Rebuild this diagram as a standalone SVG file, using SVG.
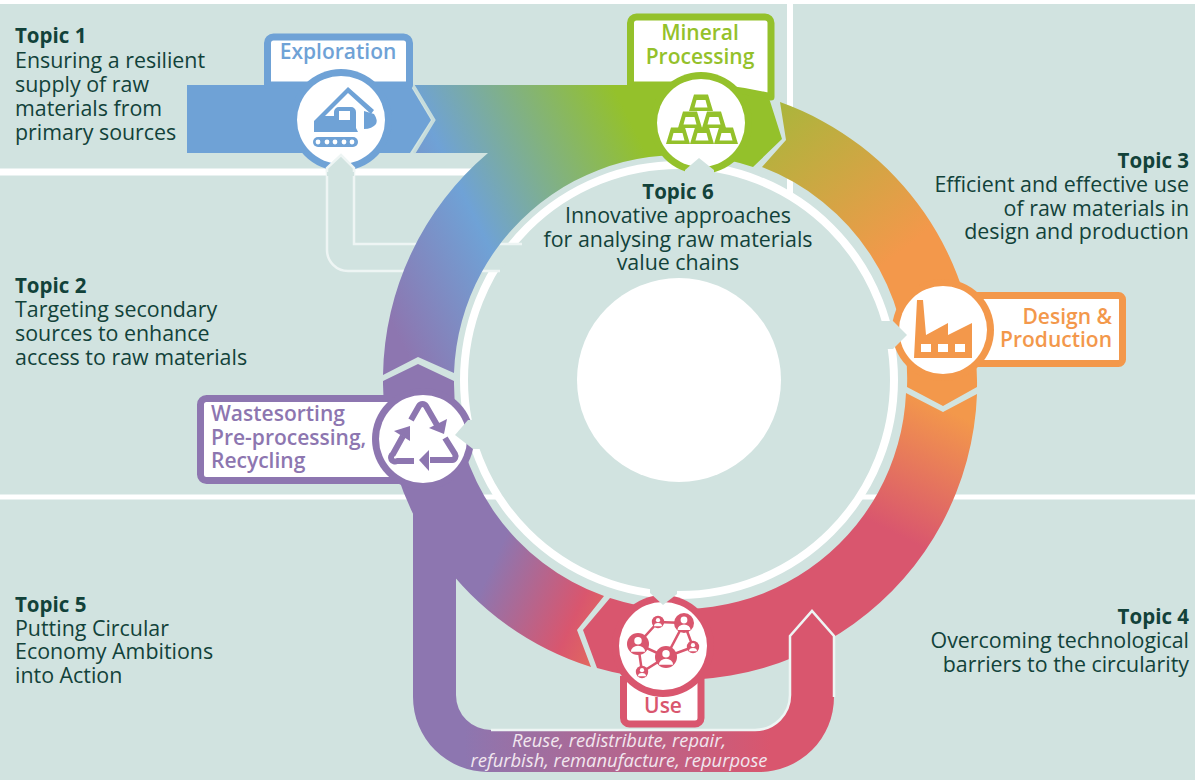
<svg xmlns="http://www.w3.org/2000/svg" xmlns:xlink="http://www.w3.org/1999/xlink" width="1195" height="780" viewBox="0 0 1195 780">
<style>
text{font-family:"Open Sans","Noto Sans","Liberation Sans",sans-serif}
.t{font-size:21.4px;fill:#12423a}
.h{font-weight:700;font-size:20.5px}
.e{text-anchor:end}
.m{text-anchor:middle}
.lab{font-size:21px;font-weight:600}
.bg{fill:#d1e3e0}
.wl{stroke:#fff;fill:none}
.pale{fill:none;stroke:#eef5f4;stroke-width:2.5}
.box{fill:#fff;stroke-width:7;stroke-linejoin:round}
.blue{fill:#6fa2d6}.green{fill:#94c12b}.orange{fill:#f3984b}.purple{fill:#8d76b0}.red{fill:#d9566e}
.sblue{stroke:#6fa2d6}.sgreen{stroke:#94c12b}.sorange{stroke:#f3984b}.spurple{stroke:#8d76b0}.sred{stroke:#d9566e}
.rec{fill:none;stroke:#8d76b0;stroke-width:6;stroke-linejoin:round}
.note{font-size:18.4px;font-style:italic;fill:#f1e6ee;text-anchor:middle}
</style>
<defs>
<linearGradient id="g1" gradientUnits="userSpaceOnUse" x1="400" y1="340" x2="672" y2="204"><stop offset="0" stop-color="#8d76b0"/><stop offset=".4" stop-color="#6fa2d6"/><stop offset="1" stop-color="#94c12b"/></linearGradient>
<linearGradient id="g3" gradientUnits="userSpaceOnUse" x1="770" y1="105" x2="890" y2="260"><stop offset="0" stop-color="#a9b63b"/><stop offset="1" stop-color="#f3984b"/></linearGradient>
<linearGradient id="g4" gradientUnits="userSpaceOnUse" x1="938" y1="405" x2="878" y2="525"><stop offset="0" stop-color="#f3984b"/><stop offset="1" stop-color="#d9566e"/></linearGradient>
<linearGradient id="g5" gradientUnits="userSpaceOnUse" x1="490" y1="570" x2="612" y2="625"><stop offset="0" stop-color="#8d76b0"/><stop offset=".72" stop-color="#d9566e"/><stop offset="1" stop-color="#e2695e"/></linearGradient>
<linearGradient id="g6" gradientUnits="userSpaceOnUse" x1="465" y1="0" x2="770" y2="0"><stop offset="0" stop-color="#8d76b0"/><stop offset="1" stop-color="#d9566e"/></linearGradient>
<path id="ingot" fill-rule="evenodd" d="M-12,8 L-7,-8.5 H7 L12,8 Z M-6.5,4.5 H6.5 L4.5,-3 H-4.5 Z"/>
<g id="person"><circle r="10" fill="#d9566e"/><circle cy="-3" r="3.4" fill="#fff"/><path d="M-6.5,7 a6.5,5.5 0 0 1 13,0 Z" fill="#fff"/></g>
</defs>

<g id="background">
<rect x="0" y="4" width="1195" height="776" class="bg"/>
<path class="wl" stroke-width="7" d="M0,172 H480"/>
<path class="wl" stroke-width="5" d="M0,497 H1195"/>
<path class="wl" stroke-width="6" d="M790,0 V195"/>
<circle cx="679" cy="380" r="215" class="bg" stroke="#fff" stroke-width="8"/>
<circle cx="679" cy="380" r="102" fill="#fff"/>
</g>

<g id="connectors">
<path class="bg" d="M341,155 L354,168 V244 H522 L500,271 H348 a21,21 0 0 1 -21,-21 V168 Z"/>
<path class="pale" d="M522,244 H354 V168 M500,271 H348 a21,21 0 0 1 -21,-21 V168"/>
<path fill="url(#g1)" d="M383,375 L418,357 L454,373 A226,226 0 0 1 753,167 L782,139 L769,98 A297,297 0 0 0 680,85 H414 L434,120 L414,153 H488 A297,297 0 0 0 383,375 Z"/>
<path fill="url(#g3)" d="M780,102 L786,140 L762,167 A226,226 0 0 1 907,387 L943,406 L977,387 A297,297 0 0 0 780,102 Z"/>
<path fill="url(#g4)" d="M977,394 A297,297 0 0 1 597,668 L583,630 L610,598 A226,226 0 0 0 906,393 L943,412 Z"/>
<path fill="url(#g6)" d="M413,500 V697 a75,75 0 0 0 75,75 H759 a75,75 0 0 0 75,-75 V636 L812,611 L790,636 V695 a35,35 0 0 1 -35,35 H491 a35,35 0 0 1 -35,-35 V560 Z"/>
<path class="pale" stroke-width="1.5" d="M834,697 V636 L812,611 L790,636 V695 a35,35 0 0 1 -35,35 H491"/>
<path fill="url(#g5)" d="M591,667 L577,630 L604,596 A226,226 0 0 1 454,381 L418,364 L383,381 A297,297 0 0 0 591,667 Z"/>
<path class="blue" d="M187,85 H410 L431,120 L410,153 H187 Z"/>
<path fill="none" stroke="#c6dcdc" stroke-width="3" d="M413,85 L434,120 L414,153"/>
</g>

<g id="node-exploration">
<path class="box sblue" d="M267.5,85 V43 a6,6 0 0 1 6,-6 H403.5 a6,6 0 0 1 6,6 V85 Z"/>
<circle cx="341" cy="120" r="51" class="blue"/><circle cx="341" cy="120" r="44" fill="#fff"/>
<text x="338" y="59" class="lab m" fill="#6fa2d6">Exploration</text>
<g class="blue">
<rect x="313" y="137" width="45" height="10" rx="5"/>
<path d="M314,132 V121 L348,87 L374,110 L371,114 L348,93 L325,116 H334 V112 a5,5 0 0 1 5,-5 H351 a5,5 0 0 1 5,5 V128 L358,132 Z"/>
<path d="M364,111 L374,114 Q378,120 376,124 Q372,129 364,129 Z"/>
</g>
<g fill="#fff"><rect x="339" y="111" width="11" height="9"/><circle cx="318" cy="142" r="2.4"/><circle cx="327" cy="142" r="2.4"/><circle cx="335" cy="142" r="2.4"/><circle cx="344" cy="142" r="2.4"/><circle cx="352" cy="142" r="2.4"/></g>
</g>

<g id="node-mineral-processing">
<path class="box sgreen" d="M630.5,85 V23 a6,6 0 0 1 6,-6 H765 a6,6 0 0 1 6,6 V97 Q730,87 680,85 Z"/>
<path class="green" d="M650,86 H700 L768,99 L768,110 H650 Z"/>
<circle cx="701" cy="123" r="51" class="green"/><circle cx="701" cy="123" r="44" fill="#fff"/>
<text x="700" y="40" class="lab m" fill="#94c12b">Mineral</text>
<text x="700" y="64" class="lab m" fill="#94c12b">Processing</text>
<g class="green">
<use xlink:href="#ingot" x="678" y="136"/><use xlink:href="#ingot" x="702" y="136"/><use xlink:href="#ingot" x="726" y="136"/>
<use xlink:href="#ingot" x="690" y="120"/><use xlink:href="#ingot" x="714" y="120"/>
<use xlink:href="#ingot" x="701" y="103"/>
</g>
</g>

<g id="node-design-production">
<rect class="box sorange" x="950" y="295.5" width="172.5" height="68" rx="4"/>
<circle cx="943" cy="330" r="51" class="orange"/><circle cx="943" cy="330" r="44" fill="#fff"/>
<text x="1112" y="324" class="lab e" fill="#f3984b">Design &amp;</text>
<text x="1112" y="347" class="lab e" fill="#f3984b">Production</text>
<path class="orange" d="M917,300 H923 L926,335 L948,323 V335 L972,323 V358 H914 Z"/>
<g fill="#fff"><rect x="921" y="344" width="10" height="8"/><rect x="938" y="344" width="10" height="8"/><rect x="955" y="344" width="10" height="8"/></g>
</g>

<g id="node-recycling">
<rect class="box spurple" x="200.5" y="398.5" width="225" height="82" rx="6"/>
<circle cx="423" cy="439" r="51" class="purple"/><circle cx="423" cy="439" r="44" fill="#fff"/>
<text x="211" y="421" class="lab" fill="#8d76b0">Wastesorting</text>
<text x="211" y="445" class="lab" fill="#8d76b0">Pre-processing,</text>
<text x="211" y="468" class="lab" fill="#8d76b0">Recycling</text>
<path class="rec" d="M411,420 L419,406 a4,4 0 0 1 7,0 L437,425"/>
<path class="purple" d="M444,434 L429,428 L447,419 Z"/>
<path class="rec" d="M414,461 H397 a4,4 0 0 1 -4,-7 L403,436"/>
<path class="purple" d="M410,426 L394,431 L410,441 Z"/>
<path class="rec" d="M445,438 L455,454 a4,4 0 0 1 -3,6 H430"/>
<path class="purple" d="M419,460 L429,450 V471 Z"/>
</g>

<g id="node-use">
<path class="box sred" d="M623.5,676 V718 a6,6 0 0 0 6,6 H695 a6,6 0 0 0 6,-6 V676"/>
<circle cx="663" cy="646" r="51" class="red"/><circle cx="663" cy="646" r="44" fill="#fff"/>
<text x="663" y="713" class="lab m" fill="#d9566e">Use</text>
<path fill="none" stroke="#d9566e" stroke-width="2.5" d="M638,644 L658,622 L684,623 L666,657 L638,644 L642,672 L666,657 L693,647 L684,623"/>
<use xlink:href="#person" transform="translate(638,644) scale(1.1)"/>
<use xlink:href="#person" transform="translate(658,622) scale(.62)"/>
<use xlink:href="#person" transform="translate(684,623) scale(1)"/>
<use xlink:href="#person" transform="translate(666,657) scale(1.1)"/>
<use xlink:href="#person" transform="translate(693,647) scale(.62)"/>
<use xlink:href="#person" transform="translate(642,672) scale(.62)"/>
</g>

<g id="pointers">
<path class="bg" d="M699,158 L714,170 V180 H685 V170 Z"/>
<path class="bg" d="M907,335 L893,321 H878 V349 H893 Z"/>
<path class="bg" d="M455,435 L468,420 H480 V449 H473 Z"/>
<path class="bg" d="M663,605 L650,593 V583 H677 V594 Z"/>
<path class="bg" d="M341,155 L354,168 V176 H327 V168 Z"/>
<path class="pale" d="M327,172 V168 L341,155 L354,168 V172"/>
</g>

<g id="topics">
<g><text x="15" y="43" class="t h">Topic 1</text><text x="15" y="68" class="t">Ensuring a resilient</text><text x="15" y="92" class="t">supply of raw</text><text x="15" y="116" class="t">materials from</text><text x="15" y="140" class="t">primary sources</text></g>
<g><text x="15" y="293" class="t h">Topic 2</text><text x="15" y="317" class="t">Targeting secondary</text><text x="15" y="341" class="t">sources to enhance</text><text x="15" y="365" class="t">access to raw materials</text></g>
<g><text x="1189" y="168" class="t h e">Topic 3</text><text x="1189" y="192" class="t e">Efficient and effective use</text><text x="1189" y="216" class="t e">of raw materials in</text><text x="1189" y="239" class="t e">design and production</text></g>
<g><text x="1189" y="624" class="t h e">Topic 4</text><text x="1189" y="648" class="t e">Overcoming technological</text><text x="1189" y="672" class="t e">barriers to the circularity</text></g>
<g><text x="15" y="612" class="t h">Topic 5</text><text x="15" y="636" class="t">Putting Circular</text><text x="15" y="659" class="t">Economy Ambitions</text><text x="15" y="683" class="t">into Action</text></g>
<g><text x="678" y="199" class="t h m">Topic 6</text><text x="678" y="223" class="t m">Innovative approaches</text><text x="678" y="247" class="t m">for analysing raw materials</text><text x="678" y="270" class="t m">value chains</text></g>
<text x="619" y="747" class="note">Reuse, redistribute, repair,</text>
<text x="619" y="767" class="note">refurbish, remanufacture, repurpose</text>
</g>
</svg>
